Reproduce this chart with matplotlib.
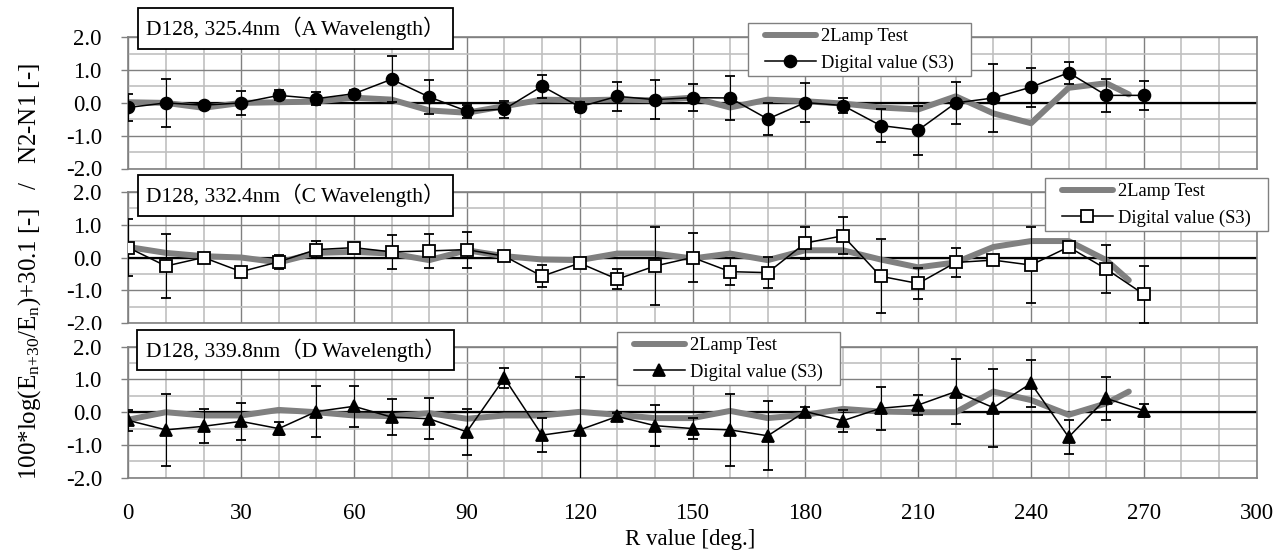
import matplotlib

matplotlib.use("Agg")
import matplotlib.pyplot as plt
from matplotlib.lines import Line2D
from matplotlib.patches import Rectangle

plt.rcParams["font.family"] = ["Liberation Serif", "Noto Sans CJK JP"]
plt.rcParams["mathtext.fontset"] = "custom"
plt.rcParams["mathtext.rm"] = "Liberation Serif"
plt.rcParams["mathtext.it"] = "Liberation Serif:italic"

# R value [deg.] of the digital points and of the 2-lamp test curve
R_DIGITAL = [0, 10, 20, 30, 40, 50, 60, 70, 80, 90, 100, 110, 120, 130,
             140, 150, 160, 170, 180, 190, 200, 210, 220, 230, 240, 250, 260, 270]
R_LAMP = [0, 10, 20, 30, 40, 50, 60, 70, 80, 90, 100, 110, 120, 130,
          140, 150, 160, 170, 180, 190, 200, 210, 220, 230, 240, 250, 260, 266]

TITLES = [
    "D128, 325.4nm（A Wavelength）",
    "D128, 332.4nm（C Wavelength）",
    "D128, 339.8nm（D Wavelength）",
]

A_DIGITAL = [-0.14, 0.00, -0.07, 0.00, 0.23, 0.13, 0.28, 0.72, 0.18, -0.25, -0.19, 0.51, -0.12, 0.20,
             0.10, 0.16, 0.15, -0.49, 0.01, -0.08, -0.69, -0.83, 0.00, 0.15, 0.48, 0.92, 0.23, 0.23]
A_ERR = [0.41, 0.73, 0.10, 0.36, 0.15, 0.20, 0.10, 0.70, 0.53, 0.20, 0.26, 0.35, 0.15, 0.45,
         0.60, 0.42, 0.67, 0.50, 0.60, 0.23, 0.50, 0.75, 0.63, 1.05, 0.59, 0.33, 0.50, 0.45]
A_LAMP = [0.02, 0.00, -0.15, 0.00, 0.02, 0.04, 0.16, 0.10, -0.23, -0.30, -0.10, 0.10, 0.08, 0.10,
          0.08, 0.16, -0.14, 0.10, 0.05, -0.02, -0.14, -0.20, 0.20, -0.32, -0.62, 0.46, 0.60, 0.26]

C_DIGITAL = [0.30, -0.26, 0.00, -0.43, -0.13, 0.24, 0.30, 0.17, 0.20, 0.24, 0.04, -0.57, -0.17, -0.66,
             -0.26, 0.00, -0.43, -0.46, 0.44, 0.66, -0.57, -0.79, -0.15, -0.08, -0.23, 0.32, -0.35, -1.12]
C_ERR = [0.86, 0.97, 0.10, 0.15, 0.21, 0.27, 0.10, 0.52, 0.52, 0.55, 0.10, 0.33, 0.10, 0.30,
         1.19, 0.75, 0.40, 0.47, 0.50, 0.56, 1.12, 0.47, 0.45, 0.10, 1.15, 0.10, 0.72, 0.87]
C_LAMP = [0.32, 0.14, 0.04, 0.00, -0.15, 0.14, 0.17, 0.12, -0.08, 0.22, 0.04, -0.06, -0.08, 0.12,
          0.12, -0.03, 0.12, -0.08, 0.22, 0.22, -0.06, -0.30, -0.15, 0.32, 0.50, 0.50, -0.08, -0.69]

D_DIGITAL = [-0.25, -0.54, -0.43, -0.28, -0.50, 0.02, 0.18, -0.15, -0.20, -0.60, 1.04, -0.70, -0.54, -0.13,
             -0.41, -0.50, -0.54, -0.72, 0.02, -0.26, 0.12, 0.22, 0.63, 0.14, 0.88, -0.76, 0.42, 0.05]
D_ERR = [0.31, 1.10, 0.52, 0.56, 0.20, 0.79, 0.63, 0.55, 0.63, 0.70, 0.31, 0.52, 1.60, 0.10,
         0.62, 0.33, 1.10, 1.05, 0.15, 0.34, 0.66, 0.32, 1.00, 1.19, 0.71, 0.51, 0.67, 0.20]
D_LAMP = [-0.23, 0.00, -0.10, -0.10, 0.07, 0.00, -0.10, -0.12, -0.03, -0.20, -0.10, -0.10, 0.01, -0.08,
          -0.18, -0.18, 0.04, -0.18, -0.08, 0.10, 0.02, 0.00, 0.00, 0.63, 0.37, -0.08, 0.27, 0.63]

W, H = 1278, 553
GRAY = "#808080"
LIGHT = "#C0C0C0"


def fig_rect(x0, y0, x1, y1):
    # pixel box (top-left origin) -> figure fraction [left, bottom, width, height]
    return [x0 / W, 1 - y1 / H, (x1 - x0) / W, (y1 - y0) / H]


def main() -> None:
    fig = plt.figure(figsize=(W / 100, H / 100), dpi=100)

    panels = [
        (A_DIGITAL, A_ERR, A_LAMP, dict(marker="o", mfc="black", ms=8.5)),
        (C_DIGITAL, C_ERR, C_LAMP, dict(marker="s", mfc="white", ms=8)),
        (D_DIGITAL, D_ERR, D_LAMP, dict(marker="^", mfc="black", ms=9)),
    ]
    boxes = [(128.3, 37.3, 1256.7, 168.5), (128.3, 191.7, 1256.7, 323.3), (128.3, 346.7, 1256.7, 477.7)]
    legend_box = [(748, 23), (1045, 178), (617, 332)]
    title_pos = [(295.5, 28.5), (295.5, 195.5), (295.5, 350)]

    for i, (digital, err, lamp, mstyle) in enumerate(panels):
        ax = fig.add_axes(fig_rect(*boxes[i]))
        ax.set_zorder(2 * i + 1)
        ax.set_xlim(0, 300)
        ax.set_ylim(-2, 2)
        ax.set_xticks(range(0, 301, 30))
        ax.set_xticks(range(0, 301, 10), minor=True)
        ax.set_yticks([-2, -1, 0, 1, 2])
        ax.set_yticks([-1.5, -0.5, 0.5, 1.5], minor=True)
        ax.set_yticklabels(["-2.0", "-1.0", "0.0", "1.0", "2.0"])
        ax.grid(which="minor", color=LIGHT, linewidth=1.2)
        ax.grid(which="major", color=GRAY, linewidth=1.0)
        ax.set_axisbelow(True)
        for sp in ax.spines.values():
            sp.set_color(GRAY)
            sp.set_linewidth(1.2)
        ax.tick_params(axis="y", which="major", direction="out", length=5, width=1.0,
                       color=GRAY, labelsize=16.5, pad=14)
        ax.tick_params(axis="y", which="minor", length=0)
        ax.tick_params(axis="x", which="both", length=0, labelsize=16.5, pad=18)
        if i < 2:
            ax.tick_params(axis="x", labelbottom=False)

        ax.axhline(0, color="black", linewidth=1.6, zorder=2)
        ax.plot(R_LAMP, lamp, color=GRAY, linewidth=4.3, solid_capstyle="round",
                solid_joinstyle="round", zorder=3)
        ax.errorbar(R_DIGITAL, digital, yerr=err, color="black", linewidth=1.1,
                    ecolor="black", elinewidth=0.8, capsize=3.8, capthick=0.8,
                    mec="black", mew=1.3, zorder=4, **mstyle)

        # legend: own frame box, contents placed inside it
        bx, by = legend_box[i]
        fig.add_artist(Rectangle((bx / W, 1 - (by + 53) / H), 223 / W, 53 / H,
                                 transform=fig.transFigure, facecolor="white",
                                 edgecolor=GRAY, linewidth=1.0, zorder=20))
        handles = [
            Line2D([], [], color=GRAY, linewidth=4.3, solid_capstyle="round"),
            Line2D([], [], color="black", linewidth=1.1, mec="black", mew=1.3, **mstyle),
        ]
        leg = fig.legend(handles, ["2Lamp Test", "Digital value (S3)"], loc="upper left",
                         bbox_to_anchor=((bx + 17) / W, 1 - (by + 5) / H), borderaxespad=0,
                         borderpad=0, fontsize=13.3, handlelength=2.75, handletextpad=0.3,
                         labelspacing=0.5, frameon=False)
        leg.set_zorder(21)

        tx, ty = title_pos[i]
        fig.text(tx / W, 1 - ty / H, TITLES[i], ha="center", va="center", fontsize=15.5,
                 bbox=dict(boxstyle="square,pad=0.4", facecolor="white", edgecolor="black",
                           linewidth=1.3), zorder=22)

    # upper edge of the next chart area hides the bottom of the "-2.0" labels
    for z, (y0, y1) in zip([2, 4], [(175.5, 191), (329.5, 346)]):
        fig.add_artist(Rectangle((55 / W, 1 - y1 / H), 72 / W, (y1 - y0) / H,
                                 transform=fig.transFigure, facecolor="white",
                                 edgecolor="none", zorder=z))

    fig.text(690 / W, 1 - 540 / H, "R value [deg.]", ha="center", va="center",
             fontsize=16.5, zorder=22)
    fig.text(30 / W, 1 - 272 / H,
             r"100*log(E$_{\mathrm{n{+}30}}$/E$_{\mathrm{n}}$)+30.1 [-]   /   N2-N1 [-]",
             rotation=90, ha="center", va="center", fontsize=18, zorder=22)

    fig.savefig("out.png", dpi=100)
    plt.close(fig)


if __name__ == "__main__":
    main()
